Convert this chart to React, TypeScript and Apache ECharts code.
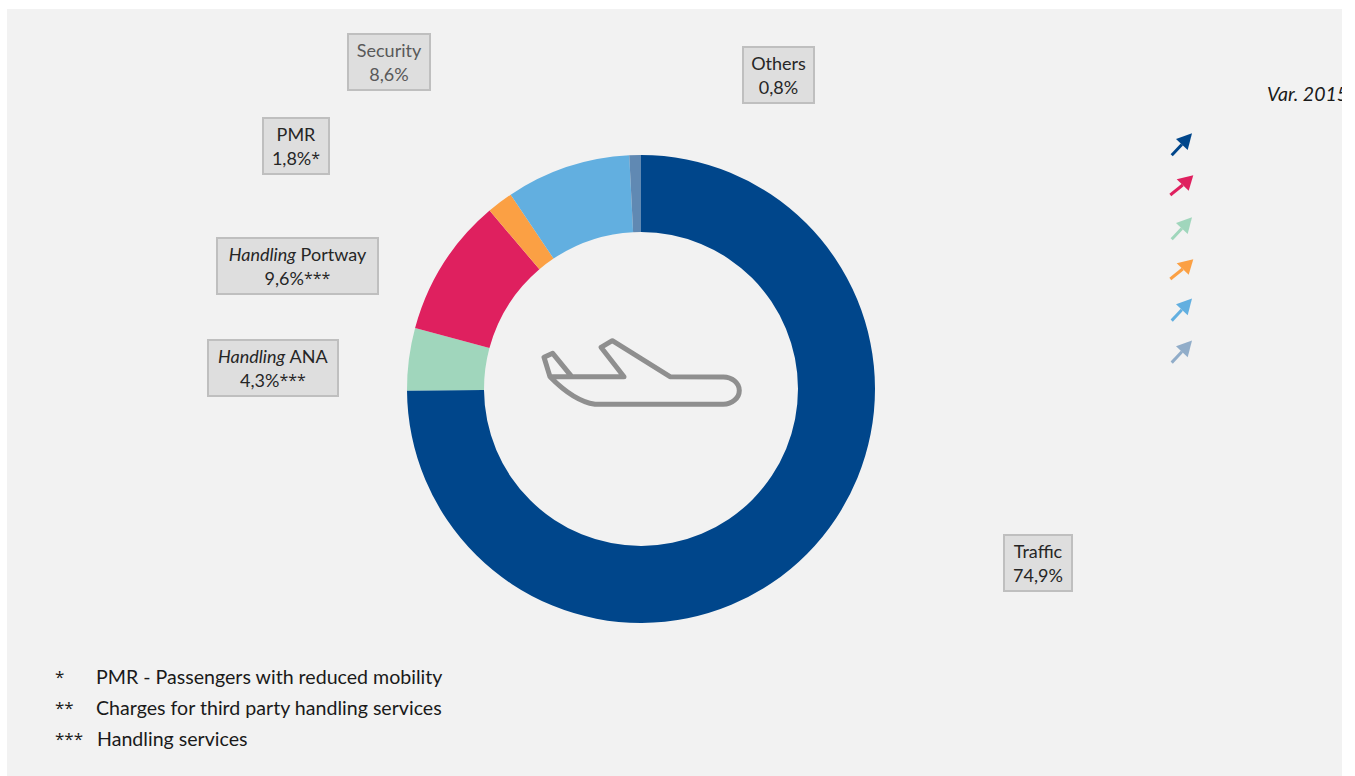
import React, { useEffect, useRef } from "react";
import * as echarts from "echarts";

// Revenue split by segment
const segments = ["Traffic", "Handling ANA", "Handling Portway", "PMR", "Security", "Others"];
const shares = [74.9, 4.3, 9.6, 1.8, 8.6, 0.8];
const sliceColors = ["#00468B", "#A0D6BC", "#DF205F", "#FBA044", "#62AFE0", "#6089B3"];
const shareTexts = ["74,9%", "4,3%", "9,6%", "1,8%", "8,6%", "0,8%"];
const shareMarks = ["", "***", "***", "*", "", ""];
const italicWords = ["", "Handling", "Handling", "", "", ""];
const plainWords = ["Traffic", "ANA", "Portway", "PMR", "Security", "Others"];
const labelInk = ["#262626", "#262626", "#262626", "#262626", "#595959", "#262626"];

// Label boxes: left, top, width, height
const labelBoxes = [
  [1004, 534, 68, 58],
  [208, 339, 130, 58],
  [217, 237, 161, 58],
  [263, 117, 66, 58],
  [348, 33, 82, 58],
  [743, 46, 71, 58],
];

// Footnotes
const noteMarks = ["*", "**", "***"];
const noteTexts = [
  "PMR - Passengers with reduced mobility",
  "Charges for third party handling services",
  "Handling services",
];
const noteTextX = [96, 96, 97];
const noteY = [676, 707, 738];

// Trend arrows, top to bottom: tip, tail, left and right barb
const arrowColors = ["#00468B", "#DF205F", "#A0D6BC", "#FBA044", "#62AFE0", "#00468B"];
const arrowOpacity = [1, 1, 1, 1, 1, 0.4];
const steepArrow = [[52, 63.3], [31.7, 85.3], [36, 69], [47.7, 80]];
const flatArrow = [[53.3, 105.3], [30.3, 125], [36.7, 109.3], [48.7, 120.7]];
const arrowOffsets = [0, 0, 84, 84, 165.3, 207.3];
const arrowShapes = [steepArrow, flatArrow, steepArrow, flatArrow, steepArrow, steepArrow];

const FONT = "Lato, 'Open Sans', sans-serif";
const MARK_FONT = "'Open Sans', sans-serif";
const LABEL_SIZE = 18;

const PLANE_PATH =
  "M544 357.3 L552.7 353.3 L571.7 376.7 M550 376.7 L624 376.7 L601 347.3 L612.3 340.7 L670 376.7 L723.3 377 " +
  "C732 377 739.3 383 739.3 390.5 C739.3 398 732 404.3 723.3 404.3 L595 404.3 C580 402 565 392 550 376.7 L544 357.3 Z";

echarts.graphic.registerShape("planeOutline", echarts.graphic.extendPath(PLANE_PATH, {}));

function arrowGraphics() {
  const out: any[] = [];
  arrowColors.forEach((color, i) => {
    const [tip, tail, left, right] = arrowShapes[i];
    const dy = arrowOffsets[i];
    const ox = 1140;
    const oy = 70;
    const mx = (left[0] + right[0]) / 2 + ox;
    const my = (left[1] + right[1]) / 2 + oy + dy;
    out.push({
      type: "line",
      shape: { x1: tail[0] + ox, y1: tail[1] + oy + dy, x2: mx, y2: my },
      style: { stroke: color, lineWidth: 3, opacity: arrowOpacity[i] },
    });
    out.push({
      type: "polygon",
      shape: {
        points: [
          [tip[0] + ox, tip[1] + oy + dy],
          [left[0] + ox, left[1] + oy + dy],
          [right[0] + ox, right[1] + oy + dy],
        ],
      },
      style: { fill: color, opacity: arrowOpacity[i] },
    });
  });
  return out;
}

function noteGraphics() {
  const out: any[] = [];
  noteMarks.forEach((mark, i) => {
    out.push({
      type: "text",
      x: 55,
      y: noteY[i],
      style: { text: mark, font: `17px ${MARK_FONT}`, fill: "#1a1a1a", textVerticalAlign: "middle" },
    });
    out.push({
      type: "text",
      x: noteTextX[i],
      y: noteY[i],
      style: { text: noteTexts[i], font: `19.6px ${FONT}`, fill: "#1a1a1a", textVerticalAlign: "middle" },
    });
  });
  return out;
}

export default function App() {
  const ref = useRef<HTMLDivElement>(null);

  useEffect(() => {
    document.body.style.margin = "0";
    document.body.style.overflow = "hidden";
    const chart = echarts.init(ref.current!, undefined, { renderer: "svg" });
    chart.setOption({
      animation: false,
      backgroundColor: "transparent",
      series: [
        {
          type: "pie",
          center: [641, 389],
          radius: [157, 234],
          startAngle: 90,
          clockwise: true,
          silent: true,
          labelLine: { show: false },
          labelLayout: (params: any) => {
            const b = labelBoxes[params.dataIndex];
            return { x: b[0] + b[2] / 2, y: b[1] + b[3] / 2, align: "center", verticalAlign: "middle" };
          },
          data: segments.map((name, i) => {
            const ink = labelInk[i];
            const first = italicWords[i]
              ? `{i|${italicWords[i]}}{n| ${plainWords[i]}}`
              : `{n|${plainWords[i]}}`;
            const second = shareMarks[i]
              ? `{n|${shareTexts[i]}}{m|${shareMarks[i]}}`
              : `{n|${shareTexts[i]}}`;
            const base = { fontFamily: FONT, fontSize: LABEL_SIZE, color: ink, lineHeight: 24 };
            return {
              name,
              value: shares[i],
              itemStyle: { color: sliceColors[i] },
              label: {
                show: true,
                position: "outside",
                formatter: `${first}\n${second}`,
                backgroundColor: "#DEDEDE",
                borderColor: "#BFBFBF",
                borderWidth: 2,
                width: labelBoxes[i][2] - 2,
                padding: [3, 0, 3, 0],
                align: "center",
                rich: {
                  n: { ...base },
                  i: { ...base, fontStyle: "italic" },
                  m: { ...base, fontFamily: MARK_FONT, fontSize: 16 },
                },
              },
            };
          }),
        },
      ],
      graphic: [
        {
          type: "planeOutline",
          x: 0,
          y: 0,
          style: { fill: "none", stroke: "#8F8F8F", lineWidth: 5, lineJoin: "round" },
        },
        {
          type: "text",
          x: 1267,
          y: 93,
          style: {
            text: "Var. 2015",
            font: `italic 19.5px ${FONT}`,
            fill: "#1a1a1a",
            textVerticalAlign: "middle",
          },
        },
        ...arrowGraphics(),
        ...noteGraphics(),
      ],
    });
    return () => chart.dispose();
  }, []);

  return (
    <div style={{ position: "absolute", left: 0, top: 0, width: 1355, height: 776, background: "#fff", overflow: "hidden" }}>
      <div style={{ position: "absolute", left: 7, top: 9, width: 1335, height: 767, background: "#F2F2F2" }} />
      <div ref={ref} style={{ position: "absolute", left: 0, top: 0, width: 1342, height: 776 }} />
    </div>
  );
}
